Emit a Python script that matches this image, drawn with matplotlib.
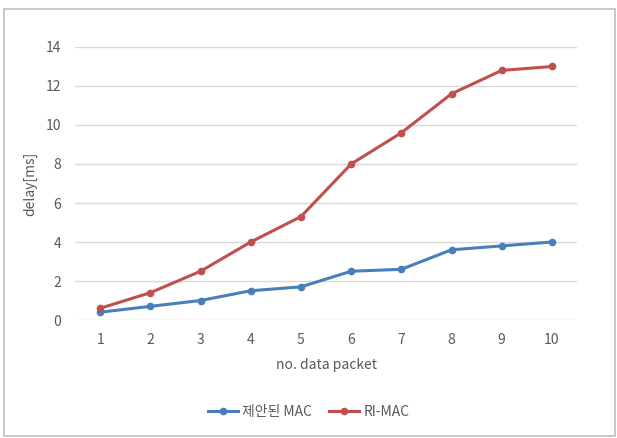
import matplotlib.pyplot as plt
from matplotlib.patches import Rectangle

plt.rcParams['font.family'] = ['Noto Sans CJK KR', 'DejaVu Sans']
plt.rcParams['font.weight'] = 'medium'

packets = [1, 2, 3, 4, 5, 6, 7, 8, 9, 10]
proposed_mac = [0.4, 0.7, 1.0, 1.5, 1.7, 2.5, 2.6, 3.6, 3.8, 4.0]
ri_mac = [0.6, 1.4, 2.5, 4.0, 5.3, 8.0, 9.6, 11.6, 12.8, 13.0]
y_ticks = [0, 2, 4, 6, 8, 10, 12, 14]

text_color = '#595959'
grid_color = '#d9d9d9'

fig = plt.figure(figsize=(6.17, 4.38), dpi=100)
ax = fig.add_axes([0.1216, 0.2694, 0.8136, 0.6233])

ax.plot(packets, proposed_mac, color='#4a7ebb', lw=2.2, marker='o', ms=4.5, label='제안된 MAC')
ax.plot(packets, ri_mac, color='#c0504d', lw=2.2, marker='o', ms=4.5, label='RI-MAC')

ax.set_xlim(0.5, 10.5)
ax.set_ylim(0, 14)
ax.set_xticks(packets)
ax.set_yticks(y_ticks)
ax.grid(axis='y', color=grid_color, lw=1)
ax.set_axisbelow(True)
for s in ax.spines.values():
    s.set_visible(False)
ax.tick_params(length=0, colors=text_color, labelsize=10, pad=10)
ax.tick_params(axis='x', pad=9)

ax.set_xlabel('no. data packet', color=text_color, fontsize=10, labelpad=8)
ax.set_ylabel('delay[ms]', color=text_color, fontsize=10)
ax.yaxis.set_label_coords(-0.075, 0.5)

fig.legend(loc='center', bbox_to_anchor=(0.5, 0.06), ncol=2, frameon=False,
           fontsize=10, labelcolor=text_color, handlelength=2.2, columnspacing=1.2,
           handletextpad=0.3)

# outer chart border
fig.patches.append(Rectangle((4 / 617, 2 / 438), 611 / 617, 427 / 438, transform=fig.transFigure,
                             fill=False, edgecolor='#bfbfbf', lw=1.2))

fig.savefig('out.png', dpi=100)
